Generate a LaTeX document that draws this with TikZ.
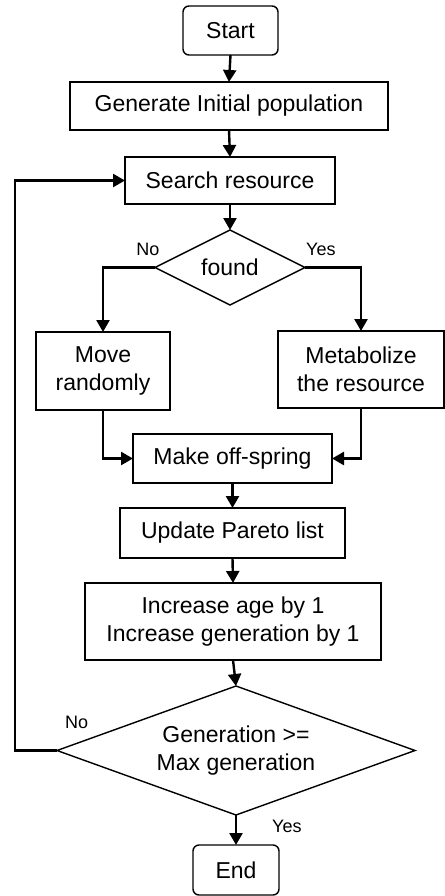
\documentclass[tikz,border=0pt]{standalone}
\usepackage{fontspec}
\setmainfont{Liberation Sans}
\usetikzlibrary{positioning, arrows.meta, shapes.geometric}
\tikzset{
block/.style={
  draw, 
  rectangle, 
  line width=1.4pt,
  inner sep=0pt,
  outer sep=0pt,
  align=center,
  font=\fontsize{23}{28}\selectfont
  },
term/.style={block, rounded corners=6pt},
decision/.style={
  draw,
  diamond,
  shape aspect=2.8,
  line width=1.4pt,
  inner sep=0pt,
  outer sep=0pt,
  align=center,
  font=\fontsize{23}{28}\selectfont
  },
lbl/.style={inner sep=0pt, font=\fontsize{18}{20}\selectfont},
line/.style={-{Triangle[length=12pt,width=13pt]}, line width=2.4pt}
}
\begin{document}
\begin{tikzpicture}[x=1pt, y=-1pt]
\useasboundingbox (0,0) rectangle (444,896);

\node[term, minimum width=95pt, minimum height=49pt]	(start)	at (230.5,30.5)		{Start};
\node[block, minimum width=318pt, minimum height=48pt]	(init)		[below=27pt of start, xshift=-1.5pt]	{Generate Initial population};
\node[block, minimum width=210pt, minimum height=47pt]	(search)	[below=27pt of init, xshift=1pt]		{Search resource};
\node[decision, minimum width=150pt, minimum height=75pt]	(found)	[below=26pt of search]		{found};
\node[block, minimum width=134pt, minimum height=78pt]	(move)	at (103,371)		{Move\\randomly};
\node[block, minimum width=166pt, minimum height=77pt]	(metab)	at (361,369.5)		{Metabolize\\the resource};
\node[block, minimum width=199pt, minimum height=49pt]	(offspring)	[below=129pt of found, xshift=2.5pt]	{Make off-spring};
\node[block, minimum width=225pt, minimum height=50pt]	(pareto)	[below=25pt of offspring]		{Update Pareto list};
\node[block, minimum width=296pt, minimum height=77pt]	(increase)	[below=25pt of pareto, xshift=0.5pt]	{Increase age by 1\\Increase generation by 1};
\node[decision, minimum width=358pt, minimum height=129pt]	(maxgen)	[below=26pt of increase, xshift=3pt]	{Generation >=\\Max generation};
\node[term, minimum width=86pt, minimum height=50pt]	(end)		[below=30pt of maxgen]		{End};

\node[lbl]	(nofound)	[above=12pt of found.west, xshift=-7pt]		{No};
\node[lbl]	(yesfound)	[above right=12pt and 1pt of found.east]	{Yes};
\node[lbl]	(nomax)	[above right=22pt and 8pt of maxgen.west]	{No};
\node[lbl]	(yesmax)	[below right=5pt and 36pt of maxgen.south]	{Yes};

\coordinate	(loop)	at ([xshift=-42pt]maxgen.west);

\draw[line] 	(start.south) 		-- 	(init.north);
\draw[line] 	(init.south) 		-- 	(search.north);
\draw[line] 	(search.south) 		-- 	(found.north);
\draw[line] 	(found.west) 		-| 	(move.north);
\draw[line] 	(found.east) 		-| 	(metab.north);
\draw[line] 	(move.south) 		|- 	(offspring.west);
\draw[line] 	(metab.south) 		|- 	(offspring.east);
\draw[line] 	(offspring.south) 	-- 	(pareto.north);
\draw[line] 	(pareto.south) 		-- 	(increase.north);
\draw[line] 	(increase.south) 	-- 	(maxgen.north);
\draw[line] 	(maxgen.south) 		-- 	(end.north);
\draw[line] 	(maxgen.west) 		-- 	(loop) |- (search.west);
\end{tikzpicture}
\end{document}
